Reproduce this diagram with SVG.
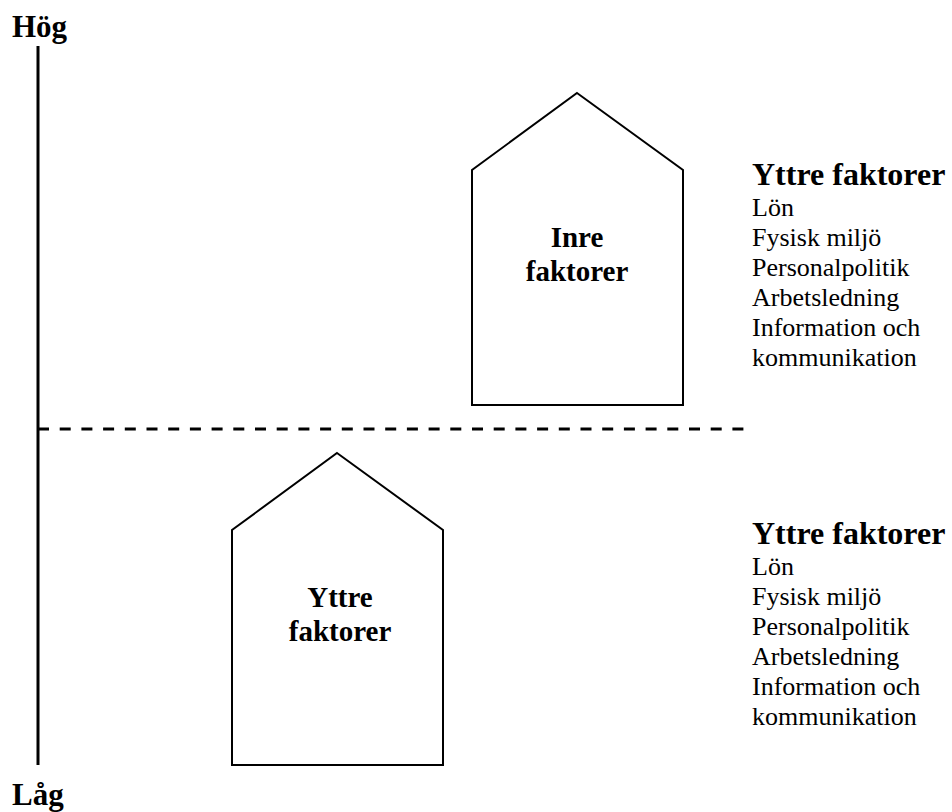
<svg xmlns="http://www.w3.org/2000/svg" width="952" height="812" viewBox="0 0 952 812">
<style>
.b{font-family:"Liberation Serif","Times New Roman",serif;font-weight:bold;fill:#000}
.r{font-family:"Liberation Serif","Times New Roman",serif;font-size:26px;fill:#000}
.ax{font-size:31px}
.hd{font-size:32px}
.hs{font-size:29px}
.house{fill:#fff;stroke:#000;stroke-width:2}
</style>
<rect width="952" height="812" fill="#fff"/>
<g id="axis">
<line x1="38" y1="46" x2="38" y2="765" stroke="#000" stroke-width="3"/>
<text class="b ax" x="12" y="37">Hög</text>
<text class="b ax" x="12" y="805">Låg</text>
</g>
<g id="connectors">
<line x1="38" y1="429" x2="752" y2="429" stroke="#000" stroke-width="3" stroke-dasharray="11 10.7"/>
</g>
<g id="house-inre">
<polygon class="house" points="577,93 683,170 683,405 472,405 472,170"/>
<text class="b hs" x="577" y="247" text-anchor="middle">Inre</text>
<text class="b hs" x="577" y="281" text-anchor="middle">faktorer</text>
</g>
<g id="house-yttre">
<polygon class="house" points="337,453 443,530 443,765 232,765 232,530"/>
<text class="b hs" x="340" y="607" text-anchor="middle">Yttre</text>
<text class="b hs" x="340" y="641" text-anchor="middle">faktorer</text>
</g>
<g id="list-upper">
<text class="b hd" x="752" y="185">Yttre faktorer</text>
<text class="r" x="752" y="216">Lön</text>
<text class="r" x="752" y="246">Fysisk miljö</text>
<text class="r" x="752" y="276">Personalpolitik</text>
<text class="r" x="752" y="306">Arbetsledning</text>
<text class="r" x="752" y="336">Information och</text>
<text class="r" x="752" y="366">kommunikation</text>
</g>
<g id="list-lower">
<text class="b hd" x="752" y="544">Yttre faktorer</text>
<text class="r" x="752" y="575">Lön</text>
<text class="r" x="752" y="605">Fysisk miljö</text>
<text class="r" x="752" y="635">Personalpolitik</text>
<text class="r" x="752" y="665">Arbetsledning</text>
<text class="r" x="752" y="695">Information och</text>
<text class="r" x="752" y="725">kommunikation</text>
</g>
</svg>
